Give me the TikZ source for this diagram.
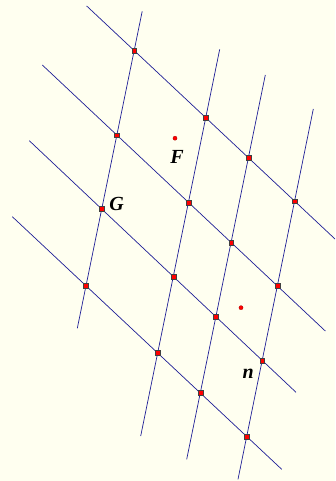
\documentclass[tikz,border=0pt]{standalone}
\usepackage{fontspec}
\setmainfont{Liberation Serif}
\begin{document}
\begin{tikzpicture}[x=1pt,y=-1pt,
  gridline/.style={draw=lineblue,line width=0.7pt},
  ipt/.style={draw=black!75,fill=red,line width=0.3pt,minimum size=4.8pt,inner sep=0pt,rectangle},
  fpt/.style={draw=red!60!black,fill=red,line width=0.25pt,minimum size=4.2pt,inner sep=0pt,circle},
  lbl/.style={font=\fontsize{20}{20}\selectfont\bfseries\itshape,inner sep=0pt}]
\definecolor{bgyellow}{RGB}{255,255,240}
\definecolor{lineblue}{RGB}{30,30,150}
\fill[bgyellow] (0,0) rectangle (335,481);
\useasboundingbox (0,0) rectangle (335,481);
% row lines (NW-SE)
\coordinate (a1) at (86.7,6);    \coordinate (a2) at (335,239);
\coordinate (b1) at (42.3,65);   \coordinate (b2) at (325.3,331);
\coordinate (c1) at (29.3,140.7); \coordinate (c2) at (296,392.3);
\coordinate (d1) at (12.3,216.7); \coordinate (d2) at (281.7,469.3);
% column lines (steep)
\coordinate (k1) at (142.2,11.3); \coordinate (k2) at (77.3,328.3);
\coordinate (l1) at (219.7,49.3); \coordinate (l2) at (140.7,436);
\coordinate (m1) at (265.3,75);   \coordinate (m2) at (186.7,459.3);
\coordinate (q1) at (313.3,109);  \coordinate (q2) at (238,479.3);
\foreach \s in {a,b,c,d,k,l,m,q} {\draw[gridline] (\s1) -- (\s2);}
% intersection points
\foreach \r in {a,b,c,d} {
  \foreach \c in {k,l,m,q} {
    \node[ipt] (p\r\c) at (intersection of \r1--\r2 and \c1--\c2) {};
  }
}
% free points
\node[fpt] (ptF) at (175,138.2) {};
\node[fpt] (ptX) at (241,307.7) {};
% labels
\node[lbl] (labF) at (177,156.5) {F};
\node[lbl] (labG) at (116.7,203.5) {G};
\node[lbl] (labn) at (248.3,373.5) {n};
\end{tikzpicture}
\end{document}
